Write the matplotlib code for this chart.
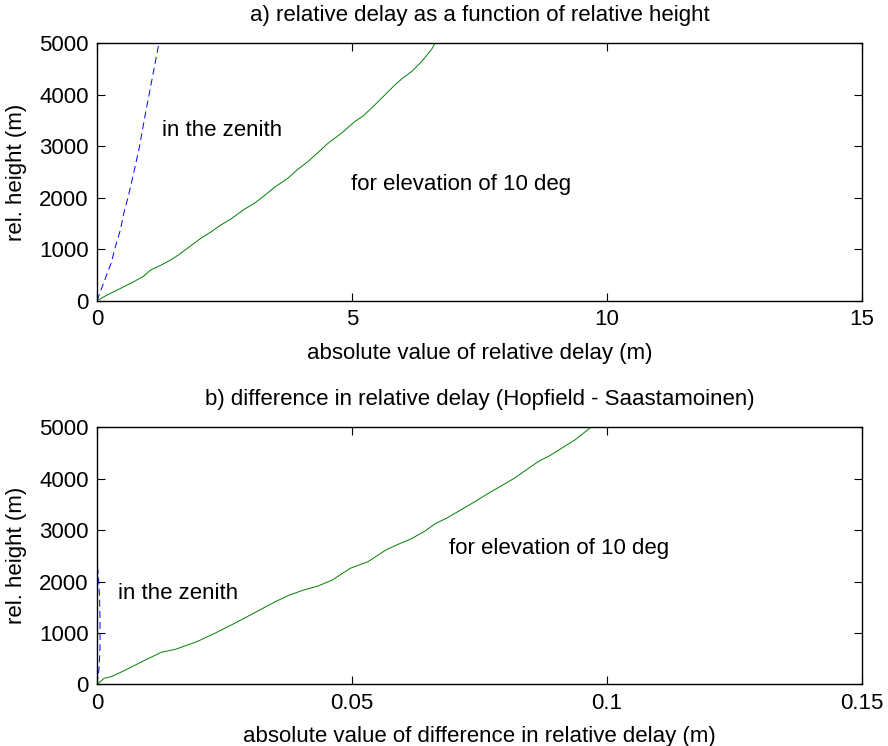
import numpy as np
import matplotlib
matplotlib.use('Agg')
import matplotlib.pyplot as plt

plt.rcParams['font.family'] = ['Liberation Sans', 'DejaVu Sans']
plt.rcParams['lines.scale_dashes'] = False

# a) relative delay vs relative height
zen_h = [0, 434, 725, 1049, 1373, 1697, 1988, 2344, 2927, 3640, 4320, 5000]
zen_d = [0, 0.164, 0.276, 0.361, 0.459, 0.525, 0.604, 0.689, 0.820, 0.951, 1.083, 1.214]

elev_h = [0, 110, 188, 272, 369, 479, 596, 687, 790, 874, 1017, 1114, 1211, 1334, 1470,
          1587, 1775, 1891, 2040, 2202, 2377, 2552, 2701, 2876, 3057, 3251, 3478, 3588,
          3802, 3996, 4190, 4333, 4450, 4644, 4884, 5000]
elev_d = [0, 0.197, 0.361, 0.525, 0.722, 0.919, 1.050, 1.247, 1.444, 1.575, 1.772, 1.903,
          2.034, 2.231, 2.428, 2.625, 2.887, 3.084, 3.281, 3.478, 3.740, 3.937, 4.134,
          4.331, 4.528, 4.790, 5.052, 5.217, 5.446, 5.643, 5.840, 6.004, 6.168, 6.365,
          6.562, 6.627]

# b) difference Hopfield - Saastamoinen
dzen_h = [0, 300, 700, 1200, 1700, 2100, 2400, 3000, 4000, 5000]
dzen_d = [0, 0.0004, 0.0006, 0.0006, 0.0005, 0.0003, 0.0, 0.0, 0.0, 0.0]

delev_h = [0, 117, 149, 279, 454, 623, 681, 830, 992, 1167, 1349, 1608, 1738, 1835, 1913,
           2030, 2257, 2386, 2613, 2711, 2827, 2983, 3132, 3230, 3392, 3554, 3684, 3846,
           4008, 4202, 4345, 4449, 4624, 4753, 5000]
delev_d = [0, 0.00142, 0.00282, 0.00562, 0.00911, 0.01261, 0.01540, 0.01960, 0.02309,
           0.02659, 0.03008, 0.03498, 0.03777, 0.04057, 0.04336, 0.04616, 0.04966, 0.05315,
           0.05665, 0.05875, 0.06154, 0.06434, 0.06643, 0.06853, 0.07133, 0.07412, 0.07622,
           0.07902, 0.08181, 0.08461, 0.08671, 0.08880, 0.09160, 0.09370, 0.09684]

yticks = [0, 1000, 2000, 3000, 4000, 5000]
xticks_a = [0, 5, 10, 15]
xticks_b = [0, 0.05, 0.1, 0.15]
xlabels_b = ['0', '0.05', '0.1', '0.15']

fs = 16


def style(ax):
	ax.tick_params(direction='in', length=6, top=True, right=True, labelsize=fs, width=0.8, pad=6)
	for s in ax.spines.values():
		s.set_linewidth(1.0)
	ax.set_ylim(0, 5000)
	ax.set_yticks(yticks)
	ax.set_ylabel('rel. height (m)', fontsize=fs, labelpad=9)


fig = plt.figure(figsize=(8.88, 7.46), dpi=100)

ax1 = fig.add_axes([0.1092, 0.5969, 0.8615, 0.345])
ax1.plot(zen_d, zen_h, color='#0000ff', linestyle='--', dashes=(5, 3), linewidth=0.7)
ax1.plot(elev_d, elev_h, color='#008000', linewidth=0.7)
ax1.set_xlim(0, 15)
ax1.set_xticks(xticks_a)
style(ax1)
ax1.set_xlabel('absolute value of relative delay (m)', fontsize=fs, labelpad=9)
ax1.set_title('a) relative delay as a function of relative height', fontsize=fs, pad=16)
ax1.text(1.27, 3300, 'in the zenith', fontsize=fs, va='center')
ax1.text(4.98, 2250, 'for elevation of 10 deg', fontsize=fs, va='center')

ax2 = fig.add_axes([0.1092, 0.0827, 0.8615, 0.3445])
ax2.plot(dzen_d, dzen_h, color='#0000ff', linestyle='--', dashes=(5, 3), linewidth=0.7)
ax2.plot(delev_d, delev_h, color='#008000', linewidth=0.7)
ax2.set_xlim(0, 0.15)
ax2.set_xticks(xticks_b)
ax2.set_xticklabels(xlabels_b)
style(ax2)
ax2.set_xlabel('absolute value of difference in relative delay (m)', fontsize=fs, labelpad=9)
ax2.set_title('b) difference in relative delay (Hopfield - Saastamoinen)', fontsize=fs, pad=16)
ax2.text(0.0041, 1760, 'in the zenith', fontsize=fs, va='center')
ax2.text(0.069, 2650, 'for elevation of 10 deg', fontsize=fs, va='center')

fig.savefig('out.png', dpi=100)
